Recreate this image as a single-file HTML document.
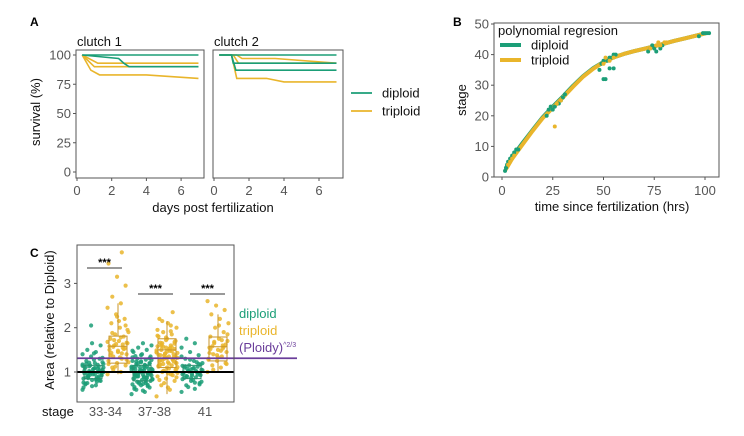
<!DOCTYPE html>
<html><head><meta charset="utf-8">
<style>
body{margin:0;background:#fff;}
svg{display:block;font-family:"Liberation Sans",Arial,sans-serif;}
.tick{fill:#555;font-size:13px;}
.title{fill:#111;font-size:13px;}
</style></head>
<body>
<svg id="fig" width="744" height="436" viewBox="0 0 744 436">
<g id="pA"></g>
<g id="pB"></g>
<g id="pC"></g>
</svg>
<script>
// ---------- Panel A data ----------
const aYTicks=[0,25,50,75,100];
const aXTicks=[0,2,4,6];
const c1DipDays=[[0.3,2.4,2.7,3.0,7],[0.3,7]];
const c1DipSurv=[[100,97,93,90,90],[100,100]];
const c1TriDays=[[0.3,1.2,7],[0.3,1.0,7],[0.3,0.8,1.3,4.0,7]];
const c1TriSurv=[[100,93,93],[100,90,90],[100,87,83,83,80]];
const c2DipDays=[[0.3,7],[0.3,1.0,1.1,7],[0.3,1.0,1.25,7]];
const c2DipSurv=[[100,100],[100,100,93,93],[100,100,87,87]];
const c2TriDays=[[0.3,1.3,1.6,3.5,7],[0.3,1.1,1.4,3.2,4.0,7],[0.3,1.0,1.3,3.0,4.0,7]];
const c2TriSurv=[[100,100,97,97,93],[100,100,93,93,93,93],[100,100,80,80,77,77]];
// ---------- Panel B data ----------
const bXTicks=[0,25,50,75,100];
const bYTicks=[0,10,20,30,40,50];
const fitT=[2,5,10,15,20,25,30,35,40,45,50,55,60,65,70,75,80,85,90,95,100];
const fitDip=[3,6.5,11,15.3,19.5,23,26.3,29.8,33,35.6,37.6,39.1,40.2,41.1,41.9,42.7,43.6,44.5,45.3,46.1,46.9];
const fitTri=[2.6,6,10.5,15,19.2,22.6,26,29.5,32.8,35.4,37.5,39.1,40.2,41.1,41.9,42.7,43.6,44.5,45.3,46.1,46.9];
const dipT=[1.5,2,2.5,3,4,5,6,7,8,22,23,24,25,26,27,28,29,30,31,48,49,50,50,51,52,53,54,55,56,53,55,72,73,74,75,76,78,79,97,99,100,101,102];
const dipS=[2,3,4,5,6,7,8,9,9,20,22,23,22,23,24,24,25,26,27,35,37,32,38,32,38,39,39,40,40,35.5,35.5,41,42,43,42,41,42,43,46,47,47,47,47];
const triT=[3,4,5,6,26,27,29,50,51,53,55,73,76,77,78,80,81];
const triS=[4,5,6,7,16.5,24,25,37,39,38,39,42,43,44,43,44,44];
// ---------- Panel C data ----------
const cTicks=[1,2,3];
const stages=["33-34","37-38","41"];
const triQ1=[1.2,1.1,1.25],triMed=[1.58,1.5,1.57],triQ3=[1.81,1.75,1.79],triLo=[0.95,0.5,1.0],triHi=[2.55,2.15,2.3];
const dipQ1=[0.85,0.8,0.85],dipMed=[1.0,0.98,1.0],dipQ3=[1.15,1.15,1.15];
const dip1=[0.6,0.7,0.75,0.8,0.82,0.85,0.88,0.9,0.92,0.95,0.97,1.0,1.02,1.05,1.08,1.1,1.12,1.15,1.18,1.2,1.25,1.3,1.35,1.4,1.45,1.5,1.6,1.65,0.65,0.78,0.86,0.93,0.99,1.03,1.07,1.13,1.22,1.28,0.72,0.9,1.0,1.1,0.95,0.88,1.04,2.05,1.17,0.83,0.97,1.01,0.68,0.76,0.84,0.91,0.96,1.06,1.11,1.16,1.21,1.32,1.42,0.74,0.87,0.94,1.0,1.09,1.19,0.81,0.98,1.14];
const tri1=[0.95,1.0,1.1,1.15,1.2,1.25,1.3,1.35,1.4,1.45,1.5,1.55,1.6,1.65,1.7,1.75,1.8,1.85,1.9,2.0,2.1,2.2,2.3,2.45,2.55,2.7,2.95,3.15,3.45,3.7,1.05,1.28,1.48,1.58,1.62,1.72,1.95,2.15,1.38,1.52,1.12,1.22,1.33,1.43,1.53,1.63,1.68,1.78,1.88,2.05,2.25,1.18,1.42,1.57,1.66];
const dip2=[0.5,0.55,0.6,0.65,0.7,0.72,0.75,0.78,0.8,0.82,0.85,0.87,0.9,0.92,0.94,0.96,0.98,1.0,1.02,1.04,1.06,1.08,1.1,1.12,1.15,1.18,1.2,1.22,1.25,1.28,1.3,1.35,1.4,1.45,1.5,1.55,1.6,1.65,0.62,0.68,0.74,0.84,0.88,0.93,0.97,1.01,1.05,1.09,1.14,1.19,1.24,1.33,0.79,0.91,0.99,1.03,1.11,0.86,0.95,1.07,0.58,0.66,0.71,0.77,0.83,0.89,0.94,1.0,1.04,1.1,1.16,1.23,1.31,1.38,1.48,0.81,0.9,0.97,1.02,1.08,1.13,1.2,1.27,0.73,0.86,0.93,0.99,1.05,1.12,1.36];
const tri2=[0.45,0.6,0.7,0.8,0.85,0.9,0.95,1.0,1.05,1.1,1.12,1.15,1.18,1.2,1.22,1.25,1.28,1.3,1.32,1.35,1.38,1.4,1.42,1.45,1.48,1.5,1.52,1.55,1.58,1.6,1.65,1.7,1.75,1.8,1.85,1.9,2.0,2.1,2.2,2.35,0.75,0.98,1.08,1.16,1.24,1.34,1.44,1.54,1.62,1.68,1.78,1.95,2.05,1.26,1.36,1.46,1.14,1.56,1.02,0.88,0.65,0.82,0.93,1.03,1.11,1.19,1.27,1.33,1.41,1.49,1.53,1.59,1.64,1.72,1.82,1.92,2.15,1.21,1.31,1.39,1.47,1.57,1.07,0.97,1.17,1.29,1.37,1.43,1.51,1.66];
const dip3=[0.55,0.62,0.7,0.75,0.8,0.84,0.88,0.9,0.93,0.96,0.98,1.0,1.02,1.05,1.08,1.1,1.12,1.15,1.2,1.25,1.3,1.38,1.45,1.55,1.65,1.75,0.72,0.86,0.95,1.03,1.07,1.17,0.92,0.99,1.22,0.66,0.78,0.82,0.87,0.94,1.01,1.04,1.09,1.13,1.18,1.28,1.35,0.76,0.91,0.97,1.06,1.14];
const tri3=[1.0,1.1,1.15,1.2,1.25,1.3,1.35,1.4,1.45,1.5,1.55,1.6,1.65,1.7,1.75,1.8,1.9,2.0,2.1,2.2,2.3,2.4,2.5,2.6,1.48,1.58,1.62,1.38,1.28,1.72,1.05,1.18,1.33,1.43,1.53,1.68,1.85,2.05,1.52,1.57];

const G="#1b9e77",Y="#e9b52b",P="#6a3d9a";
const NS="http://www.w3.org/2000/svg";
function mk(parent,tag,attrs,text){const e=document.createElementNS(NS,tag);for(const k in attrs)e.setAttribute(k,attrs[k]);if(text!==undefined)e.textContent=text;parent.appendChild(e);return e;}
const pA=document.getElementById('pA'),pB=document.getElementById('pB'),pC=document.getElementById('pC');

// ---------- Panel A ----------
let t=mk(pA,'text',{x:30,y:26,'font-size':'12','font-weight':'bold',fill:'#000'},'A');


const ay=v=>172-v*1.17;
function facet(x0,x1,axLeft,dx,label,dipD,dipS_,triD,triS_,name,showY){
  const g=mk(pA,'g',{});
  
  
  const ax=d=>axLeft+d*dx;
  let s=mk(g,'text',{x:x0+1,y:46,class:'title'},label);
  
  
  const series=(D,S,col,kind)=>{D.forEach((d,i)=>{const pts=d.map((v,j)=>ax(v)+','+ay(S[i][j])).join(' ');
    const l=mk(g,'polyline',{points:pts,fill:'none',stroke:col,'stroke-width':1.6});
    
    });};
  series(triD,triS_,Y,'triploid');series(dipD,dipS_,G,'diploid');
  const r=mk(g,'rect',{x:x0,y:50,width:x1-x0,height:128,fill:'none',stroke:'#555','stroke-width':1});
  
  
  aXTicks.forEach(v=>{mk(g,'line',{x1:ax(v),x2:ax(v),y1:178,y2:181,stroke:'#555'});
    const tx=mk(g,'text',{x:ax(v),y:195,class:'tick','text-anchor':'middle'},v);
    
    });
  if(showY) aYTicks.forEach(v=>{mk(g,'line',{x1:x0-3,x2:x0,y1:ay(v),y2:ay(v),stroke:'#555'});
    const ty=mk(g,'text',{x:x0-5,y:ay(v)+4.5,class:'tick','text-anchor':'end'},v);
    
    });
}
facet(76,204,77,17.35,'clutch 1',c1DipDays,c1DipSurv,c1TriDays,c1TriSurv,'facet-clutch-1',true);
facet(213,343,214,17.5,'clutch 2',c2DipDays,c2DipSurv,c2TriDays,c2TriSurv,'facet-clutch-2',false);
t=mk(pA,'text',{x:213,y:212,class:'title','text-anchor':'middle'},'days post fertilization');


t=mk(pA,'text',{x:0,y:0,class:'title','text-anchor':'middle',transform:'translate(40,112) rotate(-90)'},'survival (%)');


[['diploid',G,93],['triploid',Y,111]].forEach(([n,c,y])=>{
  const g=mk(pA,'g',{});
  
  
  mk(g,'line',{x1:351,x2:372,y1:y,y2:y,stroke:c,'stroke-width':1.8});
  mk(g,'text',{x:382,y:y+4.5,class:'title'},n);
});

// ---------- Panel B ----------
t=mk(pB,'text',{x:453,y:26,'font-size':'12','font-weight':'bold',fill:'#000'},'B');


const bx=v=>502+v*2.03, by=v=>177-v*3.06;
function fit(T,S,col,name){const l=mk(pB,'polyline',{points:T.map((v,i)=>bx(v)+','+by(S[i])).join(' '),fill:'none',stroke:col,'stroke-width':4,'stroke-linejoin':'round','stroke-linecap':'round'});
  
  }
fit(fitT,fitDip,G,'diploid-fit-line');
fit(fitT,fitTri,Y,'triploid-fit-line');
dipT.forEach((v,i)=>{const c=mk(pB,'circle',{cx:bx(v),cy:by(dipS[i]),r:2,fill:G});
  
  });
triT.forEach((v,i)=>{const c=mk(pB,'circle',{cx:bx(v),cy:by(triS[i]),r:2,fill:Y});
  
  });
t=mk(pB,'rect',{x:494,y:23,width:225,height:154,fill:'none',stroke:'#555'});


bXTicks.forEach(v=>{mk(pB,'line',{x1:bx(v),x2:bx(v),y1:177,y2:180,stroke:'#555'});
  const tx=mk(pB,'text',{x:bx(v),y:195,class:'tick','text-anchor':'middle'},v);
  
  });
bYTicks.forEach(v=>{mk(pB,'line',{x1:491,x2:494,y1:by(v),y2:by(v),stroke:'#555'});
  const ty=mk(pB,'text',{x:489,y:by(v)+4.5,class:'tick','text-anchor':'end'},v);
  
  });
t=mk(pB,'text',{x:612,y:211,class:'title','text-anchor':'middle'},'time since fertilization (hrs)');


t=mk(pB,'text',{x:0,y:0,class:'title','text-anchor':'middle',transform:'translate(466,100) rotate(-90)'},'stage');


t=mk(pB,'text',{x:498,y:35,class:'title'},'polynomial regresion');


[['diploid',G,45],['triploid',Y,60]].forEach(([n,c,y])=>{
  const g=mk(pB,'g',{});
  
  
  mk(g,'line',{x1:500,x2:521,y1:y,y2:y,stroke:c,'stroke-width':4});
  mk(g,'text',{x:531,y:y+4.5,class:'title'},n);
});

// ---------- Panel C ----------
t=mk(pC,'text',{x:30,y:257,'font-size':'12','font-weight':'bold',fill:'#000'},'C');


const cy=v=>372-(v-1)*44.3;
const dipX=[93,142,192], triX=[118,167,218];
function cloud(vals,cx,col,name){vals.forEach((v,i)=>{const off=(((i*37)%23)-11)*0.95;
  const c=mk(pC,'circle',{cx:cx+off,cy:cy(v),r:2.1,fill:col,'fill-opacity':0.85});
  
  });}
[dip1,dip2,dip3].forEach((a,i)=>cloud(a,dipX[i],G,'diploid-point'));
[tri1,tri2,tri3].forEach((a,i)=>cloud(a,triX[i],Y,'triploid-point'));
function box(x,q1,m,q3,lo,hi,col,name){const g=mk(pC,'g',{});
  
  
  if(lo!==null){mk(g,'line',{x1:x,x2:x,y1:cy(hi),y2:cy(q3),stroke:col});mk(g,'line',{x1:x,x2:x,y1:cy(q1),y2:cy(lo),stroke:col});}
  mk(g,'rect',{x:x-9,y:cy(q3),width:18,height:cy(q1)-cy(q3),fill:'none',stroke:col});
  mk(g,'line',{x1:x-9,x2:x+9,y1:cy(m),y2:cy(m),stroke:col});}
stages.forEach((s,i)=>{box(dipX[i],dipQ1[i],dipMed[i],dipQ3[i],null,null,'#2a8f6e','diploid-box');
  box(triX[i],triQ1[i],triMed[i],triQ3[i],triLo[i],triHi[i],'#c9962a','triploid-box');});
t=mk(pC,'line',{x1:77,x2:234,y1:cy(1),y2:cy(1),stroke:'#000','stroke-width':2});


t=mk(pC,'line',{x1:77,x2:297,y1:cy(Math.pow(1.5,2/3)),y2:cy(Math.pow(1.5,2/3)),stroke:P,'stroke-width':1.8});


t=mk(pC,'rect',{x:77,y:245,width:157,height:157,fill:'none',stroke:'#555'});


[[87,122,268],[138,173,294],[190,225,294]].forEach(([a,b,y])=>{const g=mk(pC,'g',{});
  
  
  mk(g,'line',{x1:a,x2:b,y1:y,y2:y,stroke:'#333'});
  mk(g,'text',{x:(a+b)/2,y:y-2,'text-anchor':'middle','font-size':'11','font-weight':'bold',fill:'#000'},'***');});
cTicks.forEach(v=>{mk(pC,'line',{x1:74,x2:77,y1:cy(v),y2:cy(v),stroke:'#555'});
  const ty=mk(pC,'text',{x:71,y:cy(v)+4.5,class:'tick','text-anchor':'end'},v);
  
  });
stages.forEach((s,i)=>{const tx=mk(pC,'text',{x:(dipX[i]+triX[i])/2,y:416,class:'tick','text-anchor':'middle'},s);
  
  });
t=mk(pC,'text',{x:42,y:416,class:'title'},'stage');


t=mk(pC,'text',{x:0,y:0,class:'title','text-anchor':'middle',transform:'translate(54,320) rotate(-90)'},'Area (relative to Diploid)');


[['diploid',G,318],['triploid',Y,335]].forEach(([n,c,y])=>{const tx=mk(pC,'text',{x:239,y:y,fill:c,'font-size':'13'},n);
  
  });
t=mk(pC,'text',{x:239,y:352,fill:P,'font-size':'13'},'(Ploidy)');


mk(t,'tspan',{dy:-5,'font-size':'7'},'^2/3');
</script>
</body></html>
